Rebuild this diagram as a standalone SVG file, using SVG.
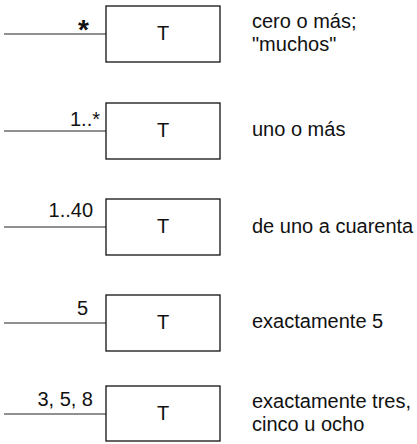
<svg xmlns="http://www.w3.org/2000/svg" width="417" height="444" viewBox="0 0 417 444">
<style>
.box{fill:#fff;stroke:#111;stroke-width:1.3}
.ln{stroke:#222;stroke-width:1.1;fill:none}
text{font-family:"Liberation Sans",Arial,sans-serif;fill:#111}
.t{font-size:20px;text-anchor:middle}
.lb{font-size:20px;text-anchor:end}
.d{font-size:20px}
</style>
<rect width="417" height="444" fill="#fff"/>
<g id="connectors">
<line class="ln" x1="4" y1="34" x2="106" y2="34"/>
<line class="ln" x1="4" y1="131" x2="106" y2="131"/>
<line class="ln" x1="4" y1="227" x2="106" y2="227"/>
<line class="ln" x1="4" y1="323" x2="106" y2="323"/>
<line class="ln" x1="4" y1="414" x2="106" y2="414"/>
<text class="lb" x="89" y="39" style="font-weight:bold;font-size:28px">*</text>
<text class="lb" x="100" y="126">1..*</text>
<text class="lb" x="93" y="217">1..40</text>
<text class="lb" x="88" y="315">5</text>
<text class="lb" x="93" y="406">3, 5, 8</text>
</g>
<g id="node1">
<rect class="box" x="106" y="6" width="114" height="56"/>
<text class="t" x="163" y="40">T</text>
<text class="d" x="252" y="28">cero o más;</text>
<text class="d" x="252" y="51">"muchos"</text>
</g>
<g id="node2">
<rect class="box" x="106" y="103" width="114" height="56"/>
<text class="t" x="163" y="137">T</text>
<text class="d" x="252" y="136">uno o más</text>
</g>
<g id="node3">
<rect class="box" x="106" y="199" width="114" height="56"/>
<text class="t" x="163" y="233">T</text>
<text class="d" x="252" y="233">de uno a cuarenta</text>
</g>
<g id="node4">
<rect class="box" x="106" y="295" width="114" height="56"/>
<text class="t" x="163" y="329">T</text>
<text class="d" x="252" y="328">exactamente 5</text>
</g>
<g id="node5">
<rect class="box" x="106" y="386" width="114" height="55"/>
<text class="t" x="163" y="420">T</text>
<text class="d" x="252" y="408">exactamente tres,</text>
<text class="d" x="252" y="431">cinco u ocho</text>
</g>
</svg>
